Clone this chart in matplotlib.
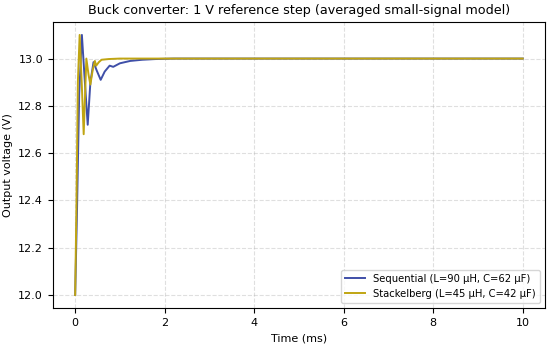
import matplotlib
matplotlib.use("Agg")
import matplotlib.pyplot as plt

# values
t_seq = [0.0, 0.04, 0.09, 0.15, 0.21, 0.28, 0.34, 0.41, 0.48, 0.57, 0.66,
         0.77, 0.85, 1.0, 1.23, 1.5, 1.8, 2.2, 3.0, 10.0]
v_seq = [12.0, 12.35, 12.85, 13.10, 12.92, 12.72, 12.90, 12.985, 12.95, 12.91, 12.945,
         12.97, 12.965, 12.98, 12.99, 12.995, 12.998, 13.0, 13.0, 13.0]

t_stk = [0.0, 0.03, 0.06, 0.10, 0.15, 0.19, 0.25, 0.30, 0.34, 0.39, 0.44,
         0.47, 0.53, 0.59, 0.75, 1.0, 1.5, 10.0]
v_stk = [12.0, 12.4, 12.9, 13.10, 12.88, 12.68, 13.0, 12.93, 12.89, 12.95, 12.99,
         12.97, 12.985, 12.995, 12.998, 13.0, 13.0, 13.0]

label_seq = "Sequential (L=90 μH, C=62 μF)"
label_stk = "Stackelberg (L=45 μH, C=42 μF)"

fig, ax = plt.subplots(figsize=(5.5, 3.48), dpi=100)
ax.plot(t_seq, v_seq, color="#3f4fa8", linewidth=1.4, label=label_seq)
ax.plot(t_stk, v_stk, color="#c0a512", linewidth=1.4, label=label_stk)

ax.set_title("Buck converter: 1 V reference step (averaged small-signal model)", fontsize=9.2)
ax.set_xlabel("Time (ms)", fontsize=8)
ax.set_ylabel("Output voltage (V)", fontsize=8)
ax.tick_params(labelsize=8)
ax.grid(True, linestyle="--", alpha=0.4)
ax.legend(loc="lower right", fontsize=7.2)

fig.subplots_adjust(left=0.096, right=0.991, top=0.937, bottom=0.115)
fig.savefig("out.png", dpi=100)
